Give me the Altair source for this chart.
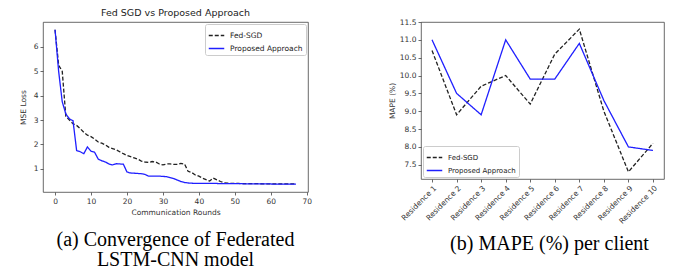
import altair as alt
import pandas as pd

# ---------------- data ----------------
rounds = list(range(68))
fed_sgd_loss = [6.7, 5.25, 5.0, 3.15, 3.0, 2.85, 2.78, 2.65, 2.5, 2.38,
                2.32, 2.22, 2.1, 2.05, 1.98, 1.88, 1.83, 1.78, 1.7, 1.62,
                1.55, 1.5, 1.45, 1.4, 1.32, 1.28, 1.26, 1.3, 1.28, 1.2,
                1.16, 1.2, 1.2, 1.18, 1.18, 1.22, 1.2, 0.9, 0.85, 0.75,
                0.7, 0.62, 0.56, 0.5, 0.62, 0.55, 0.48, 0.43, 0.41, 0.4,
                0.4, 0.4, 0.39, 0.39, 0.39, 0.39, 0.39, 0.39, 0.38, 0.38,
                0.38, 0.38, 0.38, 0.38, 0.38, 0.38, 0.38, 0.38]
proposed_loss = [6.7, 5.0, 3.75, 3.25, 3.05, 2.97, 1.75, 1.7, 1.62, 1.9,
                 1.72, 1.68, 1.4, 1.33, 1.28, 1.2, 1.16, 1.21, 1.2, 1.19,
                 0.87, 0.83, 0.82, 0.81, 0.8, 0.77, 0.7, 0.7, 0.7, 0.7,
                 0.69, 0.68, 0.64, 0.6, 0.54, 0.48, 0.44, 0.42, 0.41, 0.4,
                 0.4, 0.4, 0.4, 0.4, 0.4, 0.4, 0.39, 0.39, 0.39, 0.39,
                 0.39, 0.39, 0.39, 0.38, 0.38, 0.38, 0.38, 0.38, 0.38, 0.38,
                 0.38, 0.37, 0.37, 0.37, 0.37, 0.37, 0.37, 0.37]

clients = ["Residence 1", "Residence 2", "Residence 3", "Residence 4", "Residence 5",
           "Residence 6", "Residence 7", "Residence 8", "Residence 9", "Residence 10"]
fed_sgd_mape = [10.7, 8.9, 9.7, 10.0, 9.2, 10.6, 11.3, 9.0, 7.3, 8.1]
proposed_mape = [11.0, 9.5, 8.9, 11.0, 9.9, 9.9, 10.9, 9.3, 8.0, 7.9]

series_names = ["Fed-SGD", "Proposed Approach"]
loss_ticks_x = [0, 10, 20, 30, 40, 50, 60, 70]
loss_ticks_y = [1, 2, 3, 4, 5, 6]
mape_ticks = [7.5, 8.0, 8.5, 9.0, 9.5, 10.0, 10.5, 11.0, 11.5]

left_title = "Fed SGD vs Proposed Approach"
left_caption = ["(a) Convergence of Federated", "LSTM-CNN model"]
right_caption = "(b) MAPE (%) per client"

loss_df = pd.DataFrame({
    "round": rounds + rounds,
    "loss": fed_sgd_loss + proposed_loss,
    "series": [series_names[0]] * len(rounds) + [series_names[1]] * len(rounds),
})
mape_df = pd.DataFrame({
    "client": clients + clients,
    "mape": fed_sgd_mape + proposed_mape,
    "series": [series_names[0]] * len(clients) + [series_names[1]] * len(clients),
})

FONT = "DejaVu Sans"
CAP_FONT = "Liberation Serif"
line_colors = ["#222222", "#1f1fff"]
dashes = [[4, 2], [1, 0]]


def legend(orient, fs):
    return alt.Legend(title=None, orient=orient, offset=2, fillColor="white",
                      strokeColor="#cccccc", padding=3, cornerRadius=2,
                      labelFont=FONT, labelFontSize=fs, labelColor="#222222",
                      symbolType="stroke", symbolSize=240, symbolStrokeWidth=1.3,
                      rowPadding=1, labelOffset=5)


def enc_color(orient, fs):
    return alt.Color("series:N", scale=alt.Scale(domain=series_names, range=line_colors),
                     legend=legend(orient, fs))


def enc_dash(orient, fs):
    return alt.StrokeDash("series:N", scale=alt.Scale(domain=series_names, range=dashes),
                          legend=legend(orient, fs))


def caption(text, dx, offset):
    return alt.TitleParams(text, orient="bottom", anchor="middle", frame="group",
                           font=CAP_FONT, fontSize=20, fontWeight="normal",
                           color="#000000", lineHeight=20, offset=offset, dx=dx)


left_lines = alt.Chart(loss_df).mark_line(strokeWidth=1.3).encode(
    x=alt.X("round:Q", scale=alt.Scale(domain=[-3.35, 70.35], nice=False, zero=False),
            axis=alt.Axis(values=loss_ticks_x, title="Communication Rounds")),
    y=alt.Y("loss:Q", scale=alt.Scale(domain=[0.05, 7.02], nice=False, zero=False),
            axis=alt.Axis(values=loss_ticks_y, title="MSE Loss", titlePadding=6)),
    color=enc_color("top-right", 7.5),
    strokeDash=enc_dash("top-right", 7.5),
)
left_head = alt.Chart(pd.DataFrame({"t": [left_title]})).mark_text(
    font=FONT, fontSize=9.5, color="#222222", baseline="alphabetic", align="center"
).encode(text="t:N", x=alt.value(132.5), y=alt.value(-6))

left = alt.layer(left_lines, left_head).properties(
    width=265, height=170, title=caption(left_caption, 0, 14)
)

right_lines = alt.Chart(mape_df).mark_line(strokeWidth=1.3).encode(
    x=alt.X("client:N", sort=clients, scale=alt.Scale(type="point", padding=0.45),
            axis=alt.Axis(labelAngle=315, title=None)),
    y=alt.Y("mape:Q", scale=alt.Scale(domain=[7.1, 11.5], nice=False, zero=False),
            axis=alt.Axis(values=mape_ticks, format=".1f", title="MAPE (%)", titlePadding=3)),
    color=enc_color("bottom-left", 7),
    strokeDash=enc_dash("bottom-left", 7),
)
right_spacer = alt.Chart(pd.DataFrame({"t": [0]})).mark_rule(strokeOpacity=0).encode(
    x=alt.value(0), y=alt.value(-8), y2=alt.value(0)
)
right = alt.layer(right_lines, right_spacer).properties(
    width=243, height=157, title=caption(right_caption, 7, 9)
)

chart = alt.hconcat(left, right, spacing=75).properties(
    padding={"left": 10, "top": -1, "right": 0, "bottom": 0}
).configure_view(
    stroke="#444444", strokeWidth=0.8
).configure_axis(
    domain=False, grid=False, tickSize=3, tickColor="#444444", tickWidth=0.8,
    labelFont=FONT, labelFontSize=7.5, labelColor="#333333", labelPadding=2,
    titleFont=FONT, titleFontSize=7.5, titleFontWeight="normal", titleColor="#333333",
)

chart.save("out.html", embed_options={"renderer": "svg", "actions": False})
